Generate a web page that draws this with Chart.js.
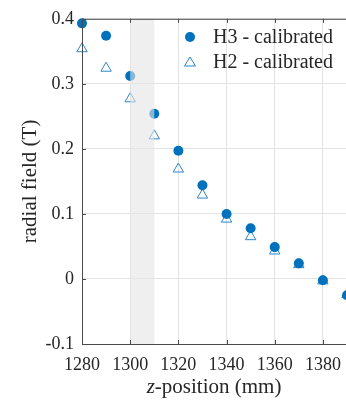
<!DOCTYPE html>
<html>
<head>
<meta charset="utf-8">
<script src="https://cdn.jsdelivr.net/npm/chart.js@4/dist/chart.umd.min.js"></script>
<style>
html,body{margin:0;padding:0;background:#fff;overflow:hidden;width:346px;height:404px;}
#wrap{position:relative;width:360px;height:404px;}
</style>
</head>
<body>
<div id="wrap"><canvas id="c" width="360" height="404"></canvas></div>
<script>
const zPositions = [1280, 1290, 1300, 1310, 1320, 1330, 1340, 1350, 1360, 1370, 1380, 1390];
const h3Values = [0.393, 0.374, 0.312, 0.254, 0.197, 0.144, 0.100, 0.078, 0.049, 0.024, -0.002, -0.025];
const h2Values = [0.354, 0.324, 0.277, 0.220, 0.169, 0.129, 0.092, 0.065, 0.043, 0.022, -0.003, -0.024];
const seriesNames = ['H3 - calibrated', 'H2 - calibrated'];
const xTickValues = [1280, 1300, 1320, 1340, 1360, 1380];
const yTickValues = [-0.1, 0, 0.1, 0.2, 0.3, 0.4];
const yTickLabels = ['-0.1', '0', '0.1', '0.2', '0.3', '0.4'];
const bandRange = [1300, 1310];
const xTitleItalic = 'z';
const xTitleRest = '-position (mm)';
const yTitle = 'radial field (T)';

const FONT = 'Liberation Serif, Times New Roman, serif';
const TEXT = '#262626';
const AXIS = '#4a4a4a';

const boxPlugin = {
  id: 'boxPlugin',
  afterDatasetsDraw(chart) {
    const {ctx, chartArea: a, scales: {x, y}} = chart;
    ctx.save();
    // shaded band drawn over markers
    ctx.fillStyle = 'rgba(228,228,228,0.6)';
    const x0 = x.getPixelForValue(bandRange[0]);
    const x1 = x.getPixelForValue(bandRange[1]);
    ctx.fillRect(x0, a.top, x1 - x0, a.bottom - a.top);
    // box lines
    ctx.strokeStyle = AXIS;
    ctx.lineWidth = 1;
    ctx.beginPath();
    ctx.moveTo(a.left + 0.5, a.top + 0.5);
    ctx.lineTo(a.right + 20, a.top + 0.5);
    ctx.moveTo(a.left + 0.5, a.top);
    ctx.lineTo(a.left + 0.5, a.bottom + 0.5);
    ctx.lineTo(a.right + 20, a.bottom + 0.5);
    // inside ticks
    xTickValues.forEach(v => {
      const px = Math.round(x.getPixelForValue(v)) + 0.5;
      ctx.moveTo(px, a.bottom); ctx.lineTo(px, a.bottom - 4);
      ctx.moveTo(px, a.top); ctx.lineTo(px, a.top + 4);
    });
    yTickValues.forEach(v => {
      const py = Math.round(y.getPixelForValue(v)) + 0.5;
      ctx.moveTo(a.left, py); ctx.lineTo(a.left + 4, py);
    });
    ctx.stroke();
    ctx.restore();
  },
  afterDraw(chart) {
    const {ctx, data} = chart;
    ctx.save();
    // legend
    const lx = 190, ly = [37, 62];
    ctx.fillStyle = '#0072BD';
    ctx.beginPath(); ctx.arc(lx, ly[0], 5, 0, Math.PI * 2); ctx.fill();
    ctx.strokeStyle = '#2b87c8'; ctx.lineWidth = 1;
    ctx.beginPath();
    ctx.moveTo(lx, ly[1] - 5); ctx.lineTo(lx + 5.5, ly[1] + 4); ctx.lineTo(lx - 5.5, ly[1] + 4); ctx.closePath();
    ctx.stroke();
    ctx.fillStyle = TEXT;
    ctx.font = '20px ' + FONT;
    ctx.textBaseline = 'middle';
    ctx.textAlign = 'left';
    ctx.fillText(data.datasets[0].label, 213, ly[0] + 1);
    ctx.fillText(data.datasets[1].label, 213, ly[1] + 1);
    // x-axis title with italic z
    const italicFont = 'italic 21px ' + FONT;
    const normalFont = '21px ' + FONT;
    ctx.font = italicFont; const w1 = ctx.measureText(xTitleItalic).width;
    ctx.font = normalFont; const w2 = ctx.measureText(xTitleRest).width;
    const cx = 214;
    const sx = cx - (w1 + w2) / 2;
    ctx.font = italicFont; ctx.fillText(xTitleItalic, sx, 387);
    ctx.font = normalFont; ctx.fillText(xTitleRest, sx + w1, 387);
    ctx.restore();
  }
};

new Chart(document.getElementById('c'), {
  type: 'scatter',
  data: {
    datasets: [
      {
        label: seriesNames[0],
        data: zPositions.map((z, i) => ({x: z, y: h3Values[i]})),
        pointStyle: 'circle',
        pointRadius: 5,
        backgroundColor: '#0072BD',
        borderColor: '#0072BD',
        borderWidth: 0,
        clip: false,
        order: 1
      },
      {
        label: seriesNames[1],
        data: zPositions.map((z, i) => ({x: z, y: h2Values[i]})),
        pointStyle: 'triangle',
        pointRadius: 6,
        backgroundColor: 'rgba(0,0,0,0)',
        borderColor: '#2b87c8',
        borderWidth: 1,
        clip: false,
        order: 2
      }
    ]
  },
  options: {
    responsive: false,
    animation: false,
    devicePixelRatio: 1,
    layout: {padding: {left: 0, top: 13, right: 13, bottom: 0}},
    plugins: {legend: {display: false}, tooltip: {enabled: false}},
    scales: {
      x: {
        type: 'linear',
        min: 1280, max: 1390,
        afterBuildTicks: s => { s.ticks = xTickValues.map(v => ({value: v})); },
        afterFit: s => { s.height = 60; },
        border: {display: false},
        grid: {color: '#e3e3e3', drawTicks: false, lineWidth: 1},
        ticks: {
          padding: 10,
          color: TEXT,
          font: {family: FONT, size: 18},
          maxRotation: 0,
          autoSkip: false,
          callback: v => String(v)
        }
      },
      y: {
        min: -0.1, max: 0.4,
        afterBuildTicks: s => { s.ticks = yTickValues.map(v => ({value: v})); },
        afterFit: s => { s.width = 82; },
        border: {display: false},
        grid: {color: '#e3e3e3', drawTicks: false, lineWidth: 1},
        ticks: {
          padding: 8,
          color: TEXT,
          font: {family: FONT, size: 18},
          callback: v => {
            const i = yTickValues.findIndex(t => Math.abs(t - v) < 1e-9);
            return i >= 0 ? yTickLabels[i] : '';
          }
        },
        title: {
          display: true,
          text: yTitle,
          color: TEXT,
          font: {family: FONT, size: 21},
          padding: {top: 18, bottom: 0}
        }
      }
    }
  },
  plugins: [boxPlugin]
});
</script>
</body>
</html>
